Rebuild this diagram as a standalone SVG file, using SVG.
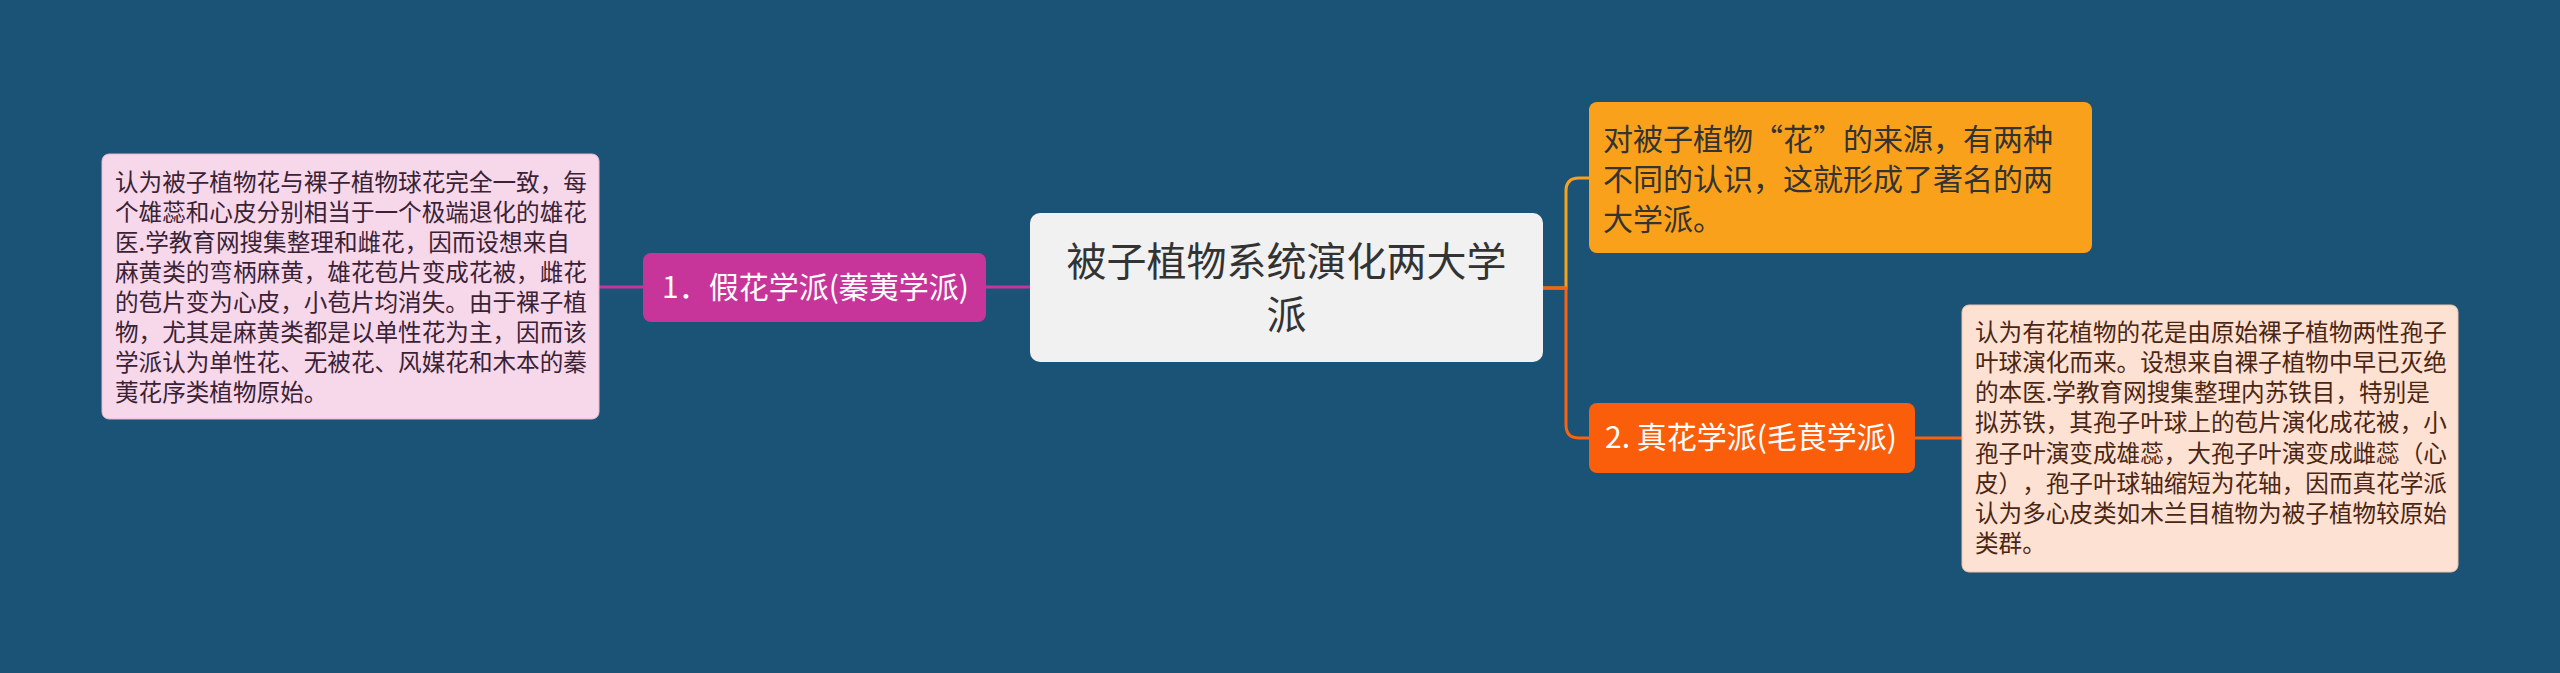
<svg xmlns="http://www.w3.org/2000/svg" width="2560" height="673" viewBox="0 0 2560 673">
<style>
text{font-family:"Noto Sans CJK SC","Noto Sans",sans-serif;text-spacing-trim:space-all;}
.detail{font-size:23.6px;}
.branch{font-size:30px;fill:#ffffff;}
.conn{fill:none;stroke-width:3;}
</style>
<rect x="0" y="0" width="2560" height="673" fill="#1b5377"/>
<g id="connectors">
  <path class="conn" stroke="#c8359a" d="M599,287 H643"/>
  <path class="conn" stroke="#c8359a" d="M986,287 H1030"/>
  <path class="conn" stroke="#f7a21d" d="M1543,288 H1566 V191 Q1566,178 1579,178 H1589"/>
  <path class="conn" stroke="#f9620e" d="M1543,288 H1566 V425 Q1566,438 1579,438 H1589"/>
  <path class="conn" stroke="#f9620e" d="M1915,438 H1962"/>
</g>
<g id="center">
  <rect x="1030" y="213" width="513" height="149" rx="10" fill="#f1f1f1"/>
  <text x="1286.5" y="276" font-size="40" fill="#333333" text-anchor="middle">被子植物系统演化两大学</text>
  <text x="1286.5" y="329" font-size="40" fill="#333333" text-anchor="middle">派</text>
</g>
<g id="branch-left">
  <rect x="643" y="253" width="343" height="69" rx="8" fill="#c8359a"/>
  <text class="branch" x="662" y="298">1．假花学派(蓁荑学派)</text>
</g>
<g id="detail-left">
  <rect x="102" y="154" width="497" height="265" rx="7" fill="#f6d8ea" stroke="#e7b6d3" stroke-width="1"/>
  <g class="detail" fill="#3a2234">
    <text x="115" y="191.3">认为被子植物花与裸子植物球花完全一致，每</text>
    <text x="115" y="221.2">个雄蕊和心皮分别相当于一个极端退化的雄花</text>
    <text x="115" y="251.1">医.学教育网搜集整理和雌花，因而设想来自</text>
    <text x="115" y="281">麻黄类的弯柄麻黄，雄花苞片变成花被，雌花</text>
    <text x="115" y="310.9">的苞片变为心皮，小苞片均消失。由于裸子植</text>
    <text x="115" y="340.8">物，尤其是麻黄类都是以单性花为主，因而该</text>
    <text x="115" y="370.7">学派认为单性花、无被花、风媒花和木本的蓁</text>
    <text x="115" y="400.6">荑花序类植物原始。</text>
  </g>
</g>
<g id="branch-top">
  <rect x="1589" y="102" width="503" height="151" rx="8" fill="#f9a11b"/>
  <g font-size="30" fill="#333333">
    <text x="1603" y="149.5">对被子植物“花”的来源，有两种</text>
    <text x="1603" y="189.5">不同的认识，这就形成了著名的两</text>
    <text x="1603" y="229.5">大学派。</text>
  </g>
</g>
<g id="branch-right">
  <rect x="1589" y="403" width="326" height="70" rx="8" fill="#fb5e0b"/>
  <text class="branch" x="1605" y="448">2. 真花学派(毛茛学派)</text>
</g>
<g id="detail-right">
  <rect x="1962" y="305" width="496" height="267" rx="7" fill="#fde1d3" stroke="#f4c0a5" stroke-width="1"/>
  <g class="detail" fill="#4a2613">
    <text x="1975" y="340.7">认为有花植物的花是由原始裸子植物两性孢子</text>
    <text x="1975" y="370.9">叶球演化而来。设想来自裸子植物中早已灭绝</text>
    <text x="1975" y="401.1">的本医.学教育网搜集整理内苏铁目，特别是</text>
    <text x="1975" y="431.3">拟苏铁，其孢子叶球上的苞片演化成花被，小</text>
    <text x="1975" y="461.5">孢子叶演变成雄蕊，大孢子叶演变成雌蕊（心</text>
    <text x="1975" y="491.7">皮），孢子叶球轴缩短为花轴，因而真花学派</text>
    <text x="1975" y="521.9">认为多心皮类如木兰目植物为被子植物较原始</text>
    <text x="1975" y="552.1">类群。</text>
  </g>
</g>
</svg>
